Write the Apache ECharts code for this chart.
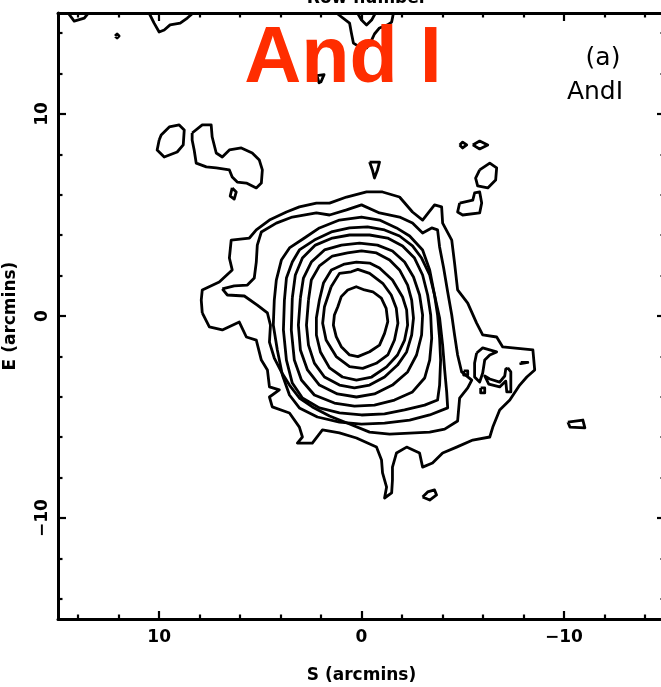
<!DOCTYPE html>
<html>
<head>
<meta charset="utf-8">
<script src="https://cdn.jsdelivr.net/npm/echarts@6/dist/echarts.min.js"></script>
<style>
  html, body { margin: 0; padding: 0; background: #fff; }
  #chart { width: 661px; height: 687px; }
</style>
</head>
<body>
<div id="chart"></div>
<script>
// Isophote contours of And I, as [S, E] offsets in arcmin from the centre.
const contourCore = [[1.17,0.46],[1.00,0.96],[0.68,1.29],[0.26,1.45],[-0.15,1.29],[-0.56,1.20],[-0.98,0.88],[-1.22,0.38],[-1.30,-0.28],[-1.14,-0.86],[-0.89,-1.44],[-0.40,-1.77],[0.18,-2.01],[0.59,-1.93],[1.00,-1.52],[1.25,-1.02],[1.39,-0.45],[1.34,0.05],[1.17,0.46]];
const contour9 = [[1.50,1.45],[1.09,2.11],[0.51,2.19],[0.18,2.31],[-0.40,2.11],[-1.05,1.62],[-1.47,1.04],[-1.72,0.38],[-1.80,-0.36],[-1.63,-1.19],[-1.30,-1.93],[-0.73,-2.34],[-0.06,-2.59],[0.59,-2.51],[1.25,-2.01],[1.75,-1.19],[1.92,-0.36],[1.83,0.46],[1.50,1.45]];
const contour8 = [[2.08,0.79],[1.88,1.63],[1.49,2.28],[0.84,2.57],[0.25,2.67],[-0.40,2.62],[-0.89,2.38],[-1.53,1.78],[-2.03,0.94],[-2.23,0.30],[-2.28,-0.45],[-2.13,-1.19],[-1.78,-1.93],[-1.24,-2.52],[-0.50,-3.02],[0.25,-3.17],[0.94,-3.02],[1.58,-2.57],[2.03,-1.78],[2.23,-0.94],[2.23,-0.10],[2.08,0.79]];
const contour7 = [[2.62,0.79],[2.48,1.78],[2.08,2.48],[1.44,2.97],[0.69,3.12],[0,3.22],[-0.74,3.12],[-1.39,2.77],[-1.88,2.28],[-2.28,1.53],[-2.48,0.79],[-2.57,-0.10],[-2.48,-0.94],[-2.23,-1.78],[-1.78,-2.43],[-1.14,-3.02],[-0.40,-3.42],[0.35,-3.56],[1.09,-3.42],[1.83,-3.02],[2.33,-2.33],[2.62,-1.44],[2.72,-0.45],[2.62,0.79]];
const contour6 = [[3.02,0.89],[2.87,1.88],[2.48,2.67],[1.83,3.27],[0.99,3.51],[0.10,3.61],[-0.79,3.51],[-1.53,3.22],[-2.13,2.67],[-2.57,1.93],[-2.87,1.04],[-3.02,0.05],[-2.97,-0.94],[-2.72,-1.93],[-2.28,-2.77],[-1.53,-3.42],[-0.64,-3.86],[0.25,-4.01],[1.19,-3.86],[2.08,-3.42],[2.67,-2.67],[3.02,-1.68],[3.12,-0.45],[3.02,0.89]];
const contour5 = [[3.42,0.89],[3.27,2.03],[2.92,2.87],[2.28,3.51],[1.44,3.86],[0.59,4.01],[-0.40,4.01],[-1.29,3.86],[-2.03,3.47],[-2.62,2.87],[-3.02,2.03],[-3.27,1.04],[-3.42,0.05],[-3.47,-1.09],[-3.37,-2.18],[-3.12,-3.07],[-2.52,-3.76],[-1.63,-4.16],[-0.64,-4.41],[0.35,-4.46],[1.34,-4.31],[2.33,-3.91],[2.97,-3.17],[3.32,-2.18],[3.47,-0.69],[3.42,0.89]];
const contour4 = [[3.81,0.79],[3.71,1.88],[3.42,2.67],[3.07,3.27],[2.33,3.76],[1.49,4.16],[0.59,4.36],[-0.30,4.41],[-1.14,4.26],[-1.88,3.96],[-2.52,3.47],[-2.97,2.87],[-3.37,2.03],[-3.61,1.04],[-3.76,0.05],[-3.86,-1.09],[-3.91,-2.18],[-3.86,-3.42],[-3.76,-4.16],[-3.12,-4.41],[-2.13,-4.65],[-1.14,-4.85],[0,-4.90],[1.09,-4.80],[2.08,-4.55],[2.92,-4.06],[3.42,-3.32],[3.71,-2.18],[3.86,-0.69],[3.81,0.79]];
const contour3 = [[4.31,0.79],[4.21,1.78],[3.96,2.77],[3.56,3.37],[2.82,3.86],[2.08,4.36],[1.09,4.75],[0,4.90],[-0.89,4.75],[-1.73,4.36],[-2.38,3.96],[-3.02,3.27],[-3.37,2.28],[-3.61,1.04],[-3.86,-0.10],[-4.01,-1.44],[-4.11,-2.67],[-4.21,-3.76],[-4.26,-4.55],[-3.37,-4.90],[-2.38,-5.15],[-1.14,-5.30],[0,-5.35],[1.09,-5.25],[2.18,-5.00],[3.07,-4.55],[3.56,-3.91],[3.91,-2.92],[4.16,-1.68],[4.36,-0.45],[4.31,0.79]];
const contour2 = [[6.88,1.34],[6.63,1.04],[5.79,0.99],[5.15,0.54],[4.65,0.15],[4.50,-0.45],[4.55,-1.29],[4.31,-2.08],[3.96,-2.77],[3.56,-3.42],[3.07,-4.06],[2.43,-4.50],[1.58,-4.95],[0.59,-5.35],[-0.40,-5.75],[-1.39,-5.85],[-2.38,-5.80],[-3.37,-5.75],[-4.11,-5.60],[-4.75,-5.20],[-4.85,-4.06],[-5.25,-3.56],[-5.45,-3.17],[-4.95,-2.77],[-4.75,-1.93],[-4.60,-0.94],[-4.46,0.05],[-4.26,1.19],[-4.06,2.38],[-3.86,3.42],[-3.76,4.26],[-3.47,4.36],[-3.02,4.11],[-2.52,4.60],[-1.88,4.90],[-0.89,5.10],[0,5.50],[0.74,5.25],[1.58,5.00],[2.23,5.10],[3.42,4.90],[4.21,4.60],[4.95,4.16],[5.15,3.51],[5.20,2.67],[5.30,1.88],[5.64,1.53],[6.29,1.49],[6.88,1.34]];
const contour1 = [[7.87,0.15],[7.92,0.79],[7.87,1.29],[7.03,1.68],[6.39,2.28],[6.53,2.87],[6.44,3.76],[5.54,3.86],[5.20,4.26],[4.55,4.75],[3.71,5.15],[3.07,5.40],[2.23,5.59],[1.58,5.59],[0.74,5.89],[-0.25,6.14],[-1.04,6.14],[-1.88,5.89],[-2.52,5.15],[-3.02,4.75],[-3.61,5.50],[-3.96,5.40],[-4.01,4.60],[-4.46,3.76],[-4.60,2.62],[-4.75,1.29],[-5.25,0.64],[-5.69,-0.35],[-5.99,-0.94],[-6.68,-1.04],[-6.98,-1.53],[-8.47,-1.68],[-8.56,-2.67],[-8.17,-3.02],[-7.82,-3.42],[-7.33,-4.16],[-6.83,-4.65],[-6.49,-5.50],[-6.34,-5.99],[-5.50,-6.14],[-4.70,-6.49],[-4.01,-6.78],[-3.51,-7.28],[-3.02,-7.48],[-2.87,-6.78],[-2.23,-6.49],[-1.73,-6.78],[-1.53,-7.48],[-1.53,-8.12],[-1.49,-8.76],[-1.14,-9.01],[-1.24,-8.47],[-1.04,-7.77],[-0.99,-7.13],[-0.74,-6.49],[0.25,-6.04],[1.09,-5.79],[1.93,-5.64],[2.43,-6.29],[3.17,-6.29],[2.92,-5.99],[3.07,-5.50],[3.56,-4.80],[4.41,-4.50],[4.55,-4.01],[4.06,-3.66],[4.55,-3.51],[4.65,-2.67],[4.95,-2.18],[5.20,-1.19],[5.69,-1.04],[6.04,-0.30],[6.88,-0.69],[7.52,-0.54],[7.87,0.15]];

// Small isolated islands of the lowest level.
const islandWest = [[10.00,8.71],[9.90,8.96],[9.50,9.36],[9.01,9.46],[8.76,9.21],[8.81,8.47],[9.11,8.12],[9.75,7.87],[10.10,8.22],[10.00,8.71]];
const islandNorthWest = [[8.37,9.06],[7.87,9.46],[7.43,9.46],[7.38,8.86],[7.18,8.07],[6.88,7.87],[6.53,8.22],[5.94,8.32],[5.40,8.07],[5.05,7.72],[4.90,7.23],[4.95,6.58],[5.20,6.34],[5.69,6.58],[6.14,6.63],[6.39,6.88],[6.53,7.23],[7.18,7.33],[7.67,7.38],[8.17,7.57],[8.27,8.22],[8.37,8.71],[8.37,9.06]];
const islandDrop = [[6.39,6.34],[6.19,6.14],[6.29,5.79],[6.49,5.94],[6.39,6.34]];
const islandKey = [[-0.40,7.62],[-0.89,7.62],[-0.79,7.23],[-0.64,6.83],[-0.54,7.23],[-0.40,7.62]];
const islandPairA = [[-4.85,8.47],[-5.00,8.61],[-5.20,8.47],[-5.00,8.32],[-4.85,8.47]];
const islandPairB = [[-5.50,8.47],[-5.84,8.66],[-6.24,8.47],[-5.84,8.27],[-5.50,8.47]];
const islandNE1 = [[-5.84,7.23],[-6.34,7.57],[-6.68,7.33],[-6.63,6.73],[-6.24,6.34],[-5.74,6.44],[-5.64,6.83],[-5.84,7.23]];
const islandNE2 = [[-4.85,5.59],[-5.50,5.74],[-5.59,6.09],[-5.84,6.14],[-5.94,5.59],[-5.84,5.10],[-5.00,5.00],[-4.75,5.15],[-4.85,5.59]];
const islandEast = [[-10.20,-5.25],[-10.94,-5.15],[-11.04,-5.54],[-10.30,-5.50],[-10.20,-5.25]];
const islandSouth = [[-3.02,-8.96],[-3.27,-8.71],[-3.61,-8.61],[-3.71,-8.86],[-3.37,-9.11],[-3.02,-8.96]];
const knotLoop = [[-5.69,-1.83],[-5.99,-1.58],[-6.68,-1.78],[-6.34,-1.93],[-6.09,-2.18],[-5.99,-2.82],[-5.84,-3.27],[-5.59,-3.02],[-5.59,-2.33],[-5.69,-1.83]];
const knotHook = [[-7.23,-2.57],[-7.38,-2.77],[-7.38,-3.76],[-7.18,-3.76],[-7.13,-3.22],[-6.83,-3.51],[-6.29,-3.37],[-6.09,-2.97],[-6.34,-3.12],[-6.83,-3.27],[-7.08,-2.97],[-7.13,-2.62],[-7.23,-2.57]];
const knotDotA = [[-5.05,-2.72],[-5.25,-2.72],[-5.25,-2.92],[-5.05,-2.92],[-5.05,-2.72]];
const knotDotB = [[-5.89,-3.56],[-6.09,-3.56],[-6.09,-3.81],[-5.89,-3.81],[-5.89,-3.56]];
const knotDash = [[-7.87,-2.30],[-8.22,-2.30],[-8.22,-2.36],[-7.87,-2.36],[-7.87,-2.30]];
const speckTitle = [[2.20,11.90],[1.85,11.95],[2.00,11.60],[2.10,11.55],[2.20,11.90]];
const speckNorth = [[12.18,13.86],[12.08,13.96],[11.98,13.86],[12.08,13.76],[12.18,13.86]];

// Contours running off the northern edge of the field.
const edgeNW1 = [[14.50,15],[14.20,14.60],[13.70,14.75],[13.50,15]];
const edgeNW2 = [[10.50,15],[10.25,14.50],[10.00,14.06],[9.75,14.16],[9.46,14.41],[8.96,14.50],[8.61,14.75],[8.32,15]];
const edgeN = [[1.24,15],[0.59,14.50],[0.50,14.01],[0.40,13.51],[0.10,13.32],[-0.25,13.27],[-0.50,13.66],[-0.64,13.96],[-0.89,14.26],[-1.29,14.41],[-1.49,14.55],[-1.58,15]];
const edgeNInner = [[0.20,15],[0,14.65],[-0.25,14.41],[-0.50,14.65],[-0.69,15]];

// Axis ticks (arcmin).
const axisRange = [-15, 15];
const majorTicks = [-10, 0, 10];
const minorTicks = [-14, -12, -8, -6, -4, -2, 2, 4, 6, 8, 12, 14];

const allContours = [
  contour1, contour2, contour3, contour4, contour5, contour6, contour7, contour8, contour9, contourCore,
  islandWest, islandNorthWest, islandDrop, islandKey, islandPairA, islandPairB, islandNE1, islandNE2,
  islandEast, islandSouth, knotLoop, knotHook, knotDotA, knotDotB, knotDash, speckTitle, speckNorth,
  edgeNW1, edgeNW2, edgeN, edgeNInner
];

const FONT = '"DejaVu Sans", "Liberation Sans", sans-serif';
const fmt = v => (v < 0 ? '\u2212' + Math.abs(v) : String(v));

function frameAxis(opts) {
  const a = {
    type: 'value', min: axisRange[0], max: axisRange[1], gridIndex: 0,
    position: opts.position,
    inverse: !!opts.inverse,
    splitLine: { show: false },
    axisLine: { show: opts.line !== false, onZero: false, lineStyle: { color: '#000', width: 3 } },
    axisTick: {
      show: true, inside: true, length: opts.tickLen,
      customValues: opts.ticks,
      lineStyle: { color: '#000', width: 2.2 }
    },
    axisLabel: { show: false },
    axisPointer: { show: false }
  };
  if (opts.label) a.axisLabel = opts.label;
  if (opts.name) {
    a.name = opts.name;
    a.nameLocation = 'middle';
    a.nameGap = opts.nameGap;
    a.nameTextStyle = { fontFamily: FONT, fontSize: 17, fontWeight: 'bold', color: '#000' };
  }
  return a;
}

const chart = echarts.init(document.getElementById('chart'), null, { renderer: 'canvas' });

chart.setOption({
  animation: false,
  backgroundColor: '#fff',
  grid: { left: 58, top: 13, width: 607, height: 606, containLabel: false, outerBoundsMode: 'none' },
  xAxis: [
    frameAxis({ position: 'bottom', inverse: true, ticks: majorTicks, tickLen: 8,
      label: { show: true, customValues: majorTicks, formatter: fmt, margin: 10,
        fontFamily: FONT, fontSize: 17, fontWeight: 'bold', color: '#000' },
      name: 'S (arcmins)', nameGap: 48 }),
    frameAxis({ position: 'top', inverse: true, ticks: majorTicks, tickLen: 8 }),
    frameAxis({ position: 'bottom', inverse: true, ticks: minorTicks, tickLen: 4.5, line: false }),
    frameAxis({ position: 'top', inverse: true, ticks: minorTicks, tickLen: 4.5, line: false })
  ],
  yAxis: [
    frameAxis({ position: 'left', ticks: majorTicks, tickLen: 8,
      label: { show: true, customValues: majorTicks, formatter: fmt, margin: 7, rotate: 90,
        fontFamily: FONT, fontSize: 17, fontWeight: 'bold', color: '#000' },
      name: 'E (arcmins)', nameGap: 39 }),
    frameAxis({ position: 'right', ticks: majorTicks, tickLen: 8 }),
    frameAxis({ position: 'left', ticks: minorTicks, tickLen: 4.5, line: false }),
    frameAxis({ position: 'right', ticks: minorTicks, tickLen: 4.5, line: false })
  ],
  series: allContours.map(c => ({
    type: 'line',
    xAxisIndex: 0,
    yAxisIndex: 0,
    data: c,
    symbol: 'none',
    showSymbol: false,
    smooth: false,
    clip: true,
    silent: true,
    lineStyle: { color: '#000', width: 2.8, join: 'round' }
  })),
  graphic: [
    { type: 'text', x: 367, y: -1, z: 100,
      style: { text: 'Row number', fill: '#000', font: 'bold 17px "DejaVu Sans", sans-serif',
        textAlign: 'center', textVerticalAlign: 'middle', align: 'center', verticalAlign: 'middle' } },
    { type: 'text', x: 343, y: 60, z: 100,
      style: { text: 'And I', fill: '#ff2d00', font: 'bold 79px "Liberation Sans", Arial, sans-serif',
        textAlign: 'center', textVerticalAlign: 'middle', align: 'center', verticalAlign: 'middle' } },
    { type: 'text', x: 603, y: 58, z: 100,
      style: { text: '(a)', fill: '#000', font: '25px "DejaVu Sans", sans-serif',
        textAlign: 'center', textVerticalAlign: 'middle', align: 'center', verticalAlign: 'middle' } },
    { type: 'text', x: 595, y: 92, z: 100,
      style: { text: 'AndI', fill: '#000', font: '25px "DejaVu Sans", sans-serif',
        textAlign: 'center', textVerticalAlign: 'middle', align: 'center', verticalAlign: 'middle' } }
  ]
});
</script>
</body>
</html>
